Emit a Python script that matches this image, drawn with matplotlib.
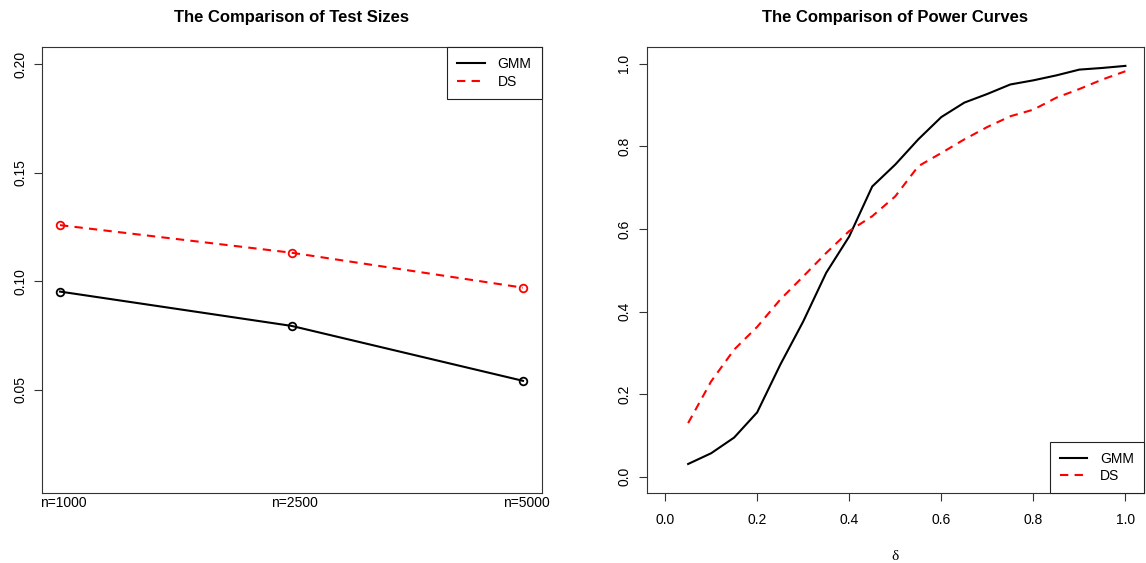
import matplotlib
matplotlib.use("Agg")
import matplotlib.pyplot as plt
import matplotlib.transforms as mtransforms
from matplotlib.lines import Line2D

plt.rcParams['font.family'] = ['Liberation Sans', 'DejaVu Sans']

# ---- data: left panel (test sizes) ----
size_labels = ["n=1000", "n=2500", "n=5000"]
size_pos = [1, 2, 3]
size_gmm = [0.0953, 0.0795, 0.0542]
size_ds = [0.1259, 0.1132, 0.0971]
size_yticks = [0.05, 0.10, 0.15, 0.20]

# ---- data: right panel (power curves) ----
delta = [0.05, 0.10, 0.15, 0.20, 0.25, 0.30, 0.35, 0.40, 0.45, 0.50,
         0.55, 0.60, 0.65, 0.70, 0.75, 0.80, 0.85, 0.90, 0.95, 1.00]
power_gmm = [0.031, 0.057, 0.095, 0.156, 0.271, 0.376, 0.494, 0.582, 0.703, 0.756,
             0.817, 0.871, 0.906, 0.927, 0.950, 0.960, 0.972, 0.986, 0.990, 0.995]
power_ds = [0.130, 0.231, 0.308, 0.363, 0.429, 0.485, 0.542, 0.595, 0.631, 0.679,
            0.752, 0.784, 0.817, 0.847, 0.873, 0.889, 0.918, 0.939, 0.962, 0.982]
power_ticks = [0.0, 0.2, 0.4, 0.6, 0.8, 1.0]

series_names = ["GMM", "DS"]

W, H = 1146, 563
fig = plt.figure(figsize=(W / 100, H / 100), dpi=100)

LW = 1.5
DASH = (0, (4, 3))
RED = '#FF0000'

def px(x0, y0, x1, y1):
    return [x0 / W, 1 - y1 / H, (x1 - x0) / W, (y1 - y0) / H]

def style_axes(ax):
    for s in ax.spines.values():
        s.set_linewidth(0.8)
        s.set_color('#333333')
    ax.tick_params(axis='both', which='major', labelsize=10, length=6,
                   width=0.8, color='#333333', direction='out')

def add_legend(ax, loc):
    handles = [Line2D([], [], color='black', lw=LW),
               Line2D([], [], color=RED, lw=LW, ls=DASH)]
    leg = ax.legend(handles, series_names, loc=loc, fontsize=10, frameon=True,
                    fancybox=False, edgecolor='#222222', borderaxespad=0,
                    handlelength=2.0, handletextpad=0.9, borderpad=0.72,
                    labelspacing=0.27, framealpha=1)
    leg.get_frame().set_linewidth(0.8)
    return leg

# ---- left panel ----
ax1 = fig.add_axes(px(41.5, 47.3, 541.5, 493.3))
ax1.plot(size_pos, size_gmm, color='black', lw=LW, marker='o', mfc='none',
         mec='black', ms=5.5, mew=1.3)
ax1.plot(size_pos, size_ds, color=RED, lw=LW, ls=DASH, marker='o', mfc='none',
         mec=RED, ms=5.5, mew=1.3)
ax1.set_xlim(0.92, 3.08)
ax1.set_ylim(0.0024, 0.2078)
ax1.set_yticks(size_yticks)
ax1.set_yticklabels([f"{v:.2f}" for v in size_yticks], rotation=90, va='center')
ax1.set_xticks(size_pos)
ax1.set_xticklabels(size_labels)
style_axes(ax1)
ax1.tick_params(axis='x', length=0, pad=1.8)
ax1.tick_params(axis='y', pad=4)
off = mtransforms.ScaledTranslation(3 / 100, 0, fig.dpi_scale_trans)
for lab in ax1.get_xticklabels():
    lab.set_transform(lab.get_transform() + off)
ax1.set_title("The Comparison of Test Sizes", fontsize=12, fontweight='bold', pad=18)
add_legend(ax1, 'upper right')

# ---- right panel ----
ax2 = fig.add_axes(px(646.7, 47.3, 1143.8, 493.3))
ax2.plot(delta, power_gmm, color='black', lw=LW)
ax2.plot(delta, power_ds, color=RED, lw=LW, ls=DASH)
ax2.set_xlim(-0.04, 1.04)
ax2.set_ylim(-0.04, 1.04)
ax2.set_xticks(power_ticks)
ax2.set_xticklabels([f"{v:.1f}" for v in power_ticks])
ax2.set_yticks(power_ticks)
ax2.set_yticklabels([f"{v:.1f}" for v in power_ticks], rotation=90, va='center')
style_axes(ax2)
ax2.tick_params(axis='x', pad=8)
ax2.tick_params(axis='y', pad=5)
ax2.set_xlabel("δ", fontsize=11, family=['Liberation Serif', 'DejaVu Serif'], labelpad=17)
ax2.set_title("The Comparison of Power Curves", fontsize=12, fontweight='bold', pad=18)
add_legend(ax2, 'lower right')

fig.savefig("out.png", dpi=100)
